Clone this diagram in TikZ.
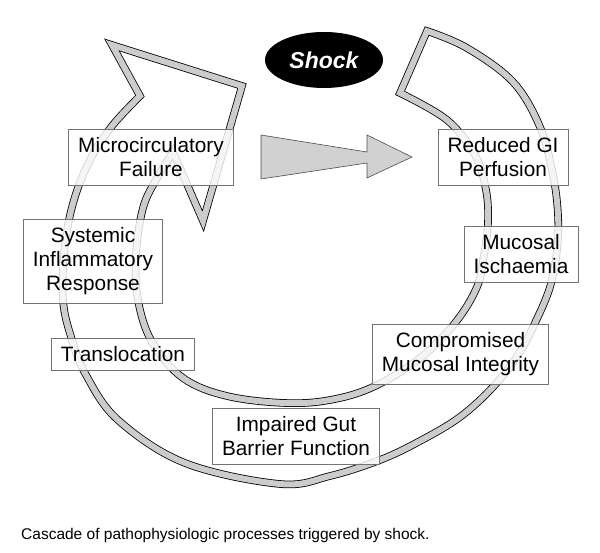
\documentclass[tikz,border=0pt]{standalone}
\usepackage{fontspec}
\setmainfont{Liberation Sans}
\usetikzlibrary{shapes.geometric}

\begin{document}
\begin{tikzpicture}[x=1pt, y=-1pt,
    stage/.style={draw=black!55, line width=0.6pt, fill=white, fill opacity=0.82, text opacity=1,
      align=center, inner xsep=9.5pt, inner ysep=8.5pt,
      font=\fontsize{20.8}{24}\selectfont},
    band/.style={draw=black, line width=0.8pt, double=black!20, double distance=6pt,
      line join=miter, miter limit=10},
  ]
  \useasboundingbox (0,0) rectangle (600,553);

  % the big curved arrow
  \draw[band] plot[smooth, tension=0.6] coordinates {
      (140,96) (112,126) (90,160) (74,200) (65,245) (63,300) (72,340) (86,375)
      (118,420) (185,463) (280,484) (330,476) (380,460) (420,441) (460,417)
      (493,387) (518,355) (535,323) (550,287) (557,250) (558,215) (553,175)
      (540,127) (513,82) (467,48) (427,31)}
    -- plot[smooth, tension=0.6] coordinates {
      (400,93) (447,120) (475,155) (486,190) (488,222) (484,255) (477,287)
      (455,323) (419,359) (373,387) (330,400) (285,403) (227,396) (183,378)
      (152,342) (138,300) (136,255) (143,208) (157,178) (173,152)}
    -- (203,221) -- (242,86) -- (112,45) -- cycle;

    \node[stage] (micro) at (151,157) {Microcirculatory\\Failure};
    \node[stage] (gi) at (503,157) {Reduced GI\\Perfusion};
    \node[stage] (sir) at (93,261.5) {Systemic\\Inflammatory\\Response};
    \node[stage] (isch) at (521,254.5) {Mucosal\\Ischaemia};
    \node[stage] (transl) at (123,354.5) {Translocation};
    \node[stage] (integ) at (460.5,354.5) {Compromised\\Mucosal Integrity};
    \node[stage] (barrier) at (296,436) {Impaired Gut\\Barrier Function};

  \filldraw[fill=black!18, draw=black!70, line width=0.6pt]
    (261,135) -- (367,152) -- (367,135) -- (412,157) -- (367,178) -- (367,163) -- (261,179) -- cycle;

    \node[ellipse, fill=black, text=white, minimum width=118pt, minimum height=56pt, inner sep=0pt,
      font=\fontsize{23}{27}\selectfont\bfseries\itshape] (shock) at (324,60) {Shock};

    \node[anchor=base west, inner sep=0pt, font=\fontsize{15.5}{18}\selectfont]
      (caption) at (21,539) {Cascade of pathophysiologic processes triggered by shock.};

\end{tikzpicture}
\end{document}
